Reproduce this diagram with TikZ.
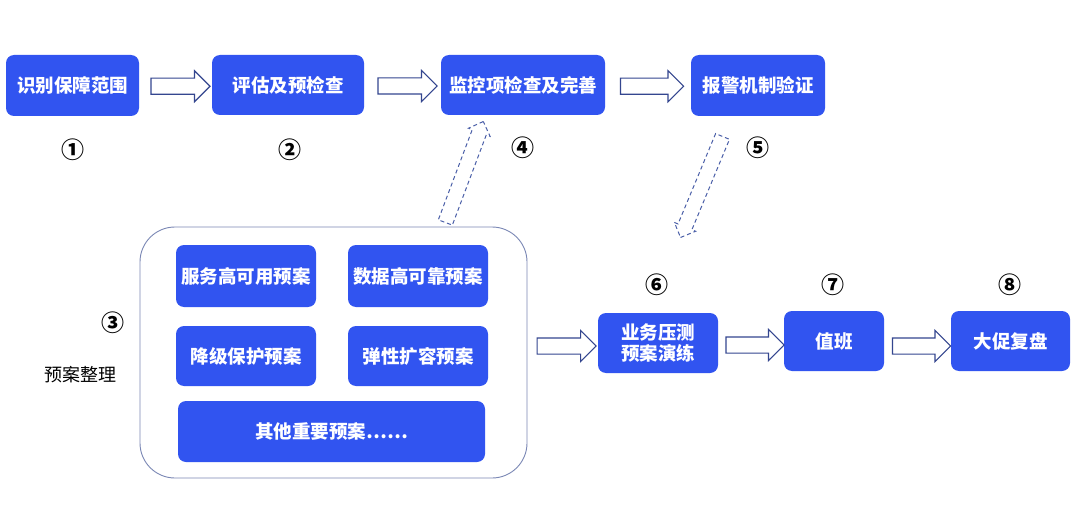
\documentclass[tikz,border=0pt]{standalone}
\usepackage{fontspec}
\setmainfont{Noto Sans CJK SC}
\usetikzlibrary{shapes.arrows,calc}
\definecolor{boxblue}{HTML}{3154F0}
\definecolor{arrowline}{HTML}{34468F}
\definecolor{dashline}{HTML}{4A5FA8}
\definecolor{frameline}{HTML}{7A87B5}
\begin{document}
\begin{tikzpicture}[x=1pt,y=-1pt,
  stepbox/.style={fill=boxblue, rounded corners=8pt, text=white, inner sep=0pt, align=center,
    font=\fontsize{18.5}{21}\selectfont\bfseries},
  numlabel/.style={inner sep=0pt, font=\fontsize{23}{25}\selectfont\bfseries},
  frame/.style={draw=frameline, line width=0.9pt, rounded corners=35pt, inner sep=0pt},
  blockarrow/.style={single arrow, draw=arrowline, fill=white, line width=1.1pt,
    inner xsep=0pt, inner ysep=7.5pt, single arrow head extend=7.5pt,
    single arrow tip angle=90, minimum width=0pt},
  dasharrow/.style={single arrow, draw=dashline, fill=white, line width=1pt,
    dash pattern=on 4pt off 3pt, inner xsep=0pt, inner ysep=7pt,
    single arrow head extend=4pt, single arrow tip angle=90, minimum width=0pt}
]
\useasboundingbox (0,0) rectangle (1080,511);
\fill[white] (0,0) rectangle (1080,511);

% top row
\node[stepbox, minimum width=133pt, minimum height=61pt] (b1) at (72.5,85.5) {识别保障范围};
\node[stepbox, minimum width=152pt, minimum height=60pt] (b2) at (288,85) {评估及预检查};
\node[stepbox, minimum width=164pt, minimum height=60pt] (b3) at (523,85) {监控项检查及完善};
\node[stepbox, minimum width=134pt, minimum height=61pt] (b4) at (758,85.5) {报警机制验证};

\node[numlabel] (n1) at (72.5,150) {①};
\node[numlabel] (n2) at (290,150) {②};
\node[numlabel] (n4) at (523,148) {④};
\node[numlabel] (n5) at (758,148) {⑤};

% container
\node[frame, minimum width=387pt, minimum height=251pt] (c) at (333.5,352.5) {};
\node[stepbox, minimum width=140pt, minimum height=62pt] (s1) at (246,276) {服务高可用预案};
\node[stepbox, minimum width=140pt, minimum height=62pt] (s2) at (418,276) {数据高可靠预案};
\node[stepbox, minimum width=140pt, minimum height=60pt] (s3) at (246,356) {降级保护预案};
\node[stepbox, minimum width=140pt, minimum height=60pt] (s4) at (418,356) {弹性扩容预案};
\node[stepbox, minimum width=307pt, minimum height=61pt] (s5) at (331.5,431.5) {其他重要预案……};

\node[numlabel] (n3) at (113,323) {③};
\node[inner sep=0pt, font=\fontsize{18}{20}\selectfont] (t3) at (80,375) {预案整理};

% bottom row
\node[stepbox, minimum width=120pt, minimum height=60pt] (b6) at (658,343) {业务压测\\预案演练};
\node[stepbox, minimum width=100pt, minimum height=60pt] (b7) at (834,341) {值班};
\node[stepbox, minimum width=119pt, minimum height=60pt] (b8) at (1010.5,341) {大促复盘};

\node[numlabel] (n6) at (657,285) {⑥};
\node[numlabel] (n7) at (833,285) {⑦};
\node[numlabel] (n8) at (1010,285) {⑧};

% block arrows
\node[blockarrow, minimum height=59pt] (a12) at ($(b1.east)!0.5!(b2.west)+(1,1)$) {};
\node[blockarrow, minimum height=59pt] (a23) at ($(b2.east)!0.5!(b3.west)+(1,1)$) {};
\node[blockarrow, minimum height=63pt] (a34) at ($(b3.east)!0.5!(b4.west)+(0,1)$) {};
\node[blockarrow, minimum height=59pt] (a36) at ($(c.east |- b6.west)!0.5!(b6.west)+(0,3)$) {};
\node[blockarrow, minimum height=58pt] (a67) at ($(b6.east)!0.5!(b7.west)+(0,3)$) {};
\node[blockarrow, minimum height=58pt] (a78) at ($(b7.east)!0.5!(b8.west)+(0,5)$) {};

% dashed arrows
\coordinate (uptail) at (444,226);
\coordinate (uptip) at (482,125);
\coordinate (dntail) at (724,133);
\coordinate (dntip) at (682,234);
\path let \p1=($(uptip)-(uptail)$), \n1={atan2(\y1,\x1)}, \n2={veclen(\x1,\y1)} in
  node[dasharrow, rotate=\n1, minimum height=\n2] (aup) at ($(uptail)!0.5!(uptip)$) {};
\path let \p1=($(dntip)-(dntail)$), \n1={atan2(\y1,\x1)}, \n2={veclen(\x1,\y1)} in
  node[dasharrow, rotate=\n1, minimum height=\n2] (adn) at ($(dntail)!0.5!(dntip)$) {};
\end{tikzpicture}
\end{document}
